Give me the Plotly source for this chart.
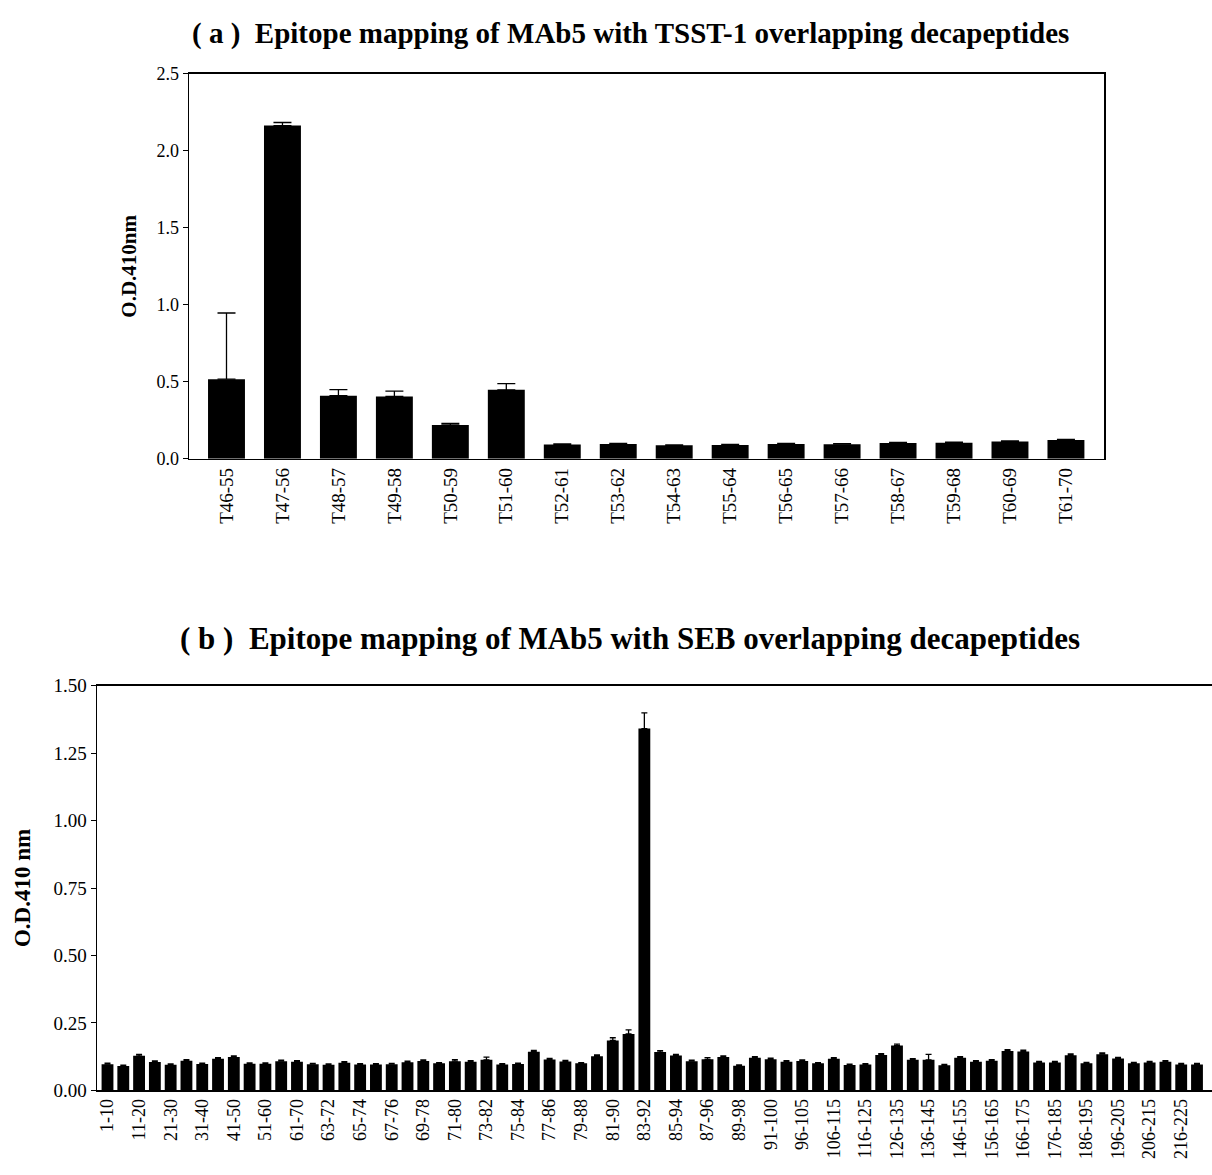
import plotly.graph_objects as go

W, H = 1212, 1175


def px(xr):
    return xr / W


def py(yr):
    return 1 - yr / H


# ---------------- (a) TSST-1 ----------------
tsst_labels = ["T46-55", "T47-56", "T48-57", "T49-58", "T50-59", "T51-60", "T52-61", "T53-62",
               "T54-63", "T55-64", "T56-65", "T57-66", "T58-67", "T59-68", "T60-69", "T61-70"]
tsst_values = [0.517, 2.164, 0.41, 0.405, 0.22, 0.448, 0.093, 0.097,
               0.088, 0.09, 0.097, 0.095, 0.103, 0.105, 0.112, 0.122]
tsst_errors = [0.43, 0.02, 0.04, 0.035, 0.01, 0.04, 0.004, 0.004,
               0.003, 0.004, 0.004, 0.003, 0.004, 0.004, 0.005, 0.005]
tsst_yticks = [0.0, 0.5, 1.0, 1.5, 2.0, 2.5]

# ---------------- (b) SEB ----------------
seb_labels = ["1-10", "6-15", "11-20", "16-25", "21-30", "26-35", "31-40", "36-45", "41-50", "46-55",
              "51-60", "56-65", "61-70", "62-71", "63-72", "64-73", "65-74", "66-75", "67-76", "68-77",
              "69-78", "70-79", "71-80", "72-81", "73-82", "74-83", "75-84", "76-85", "77-86", "78-87",
              "79-88", "80-89", "81-90", "82-91", "83-92", "84-93", "85-94", "86-95", "87-96", "88-97",
              "89-98", "90-99", "91-100", "93-102", "96-105", "101-110", "106-115", "111-120", "116-125", "121-130",
              "126-135", "131-140", "136-145", "141-150", "146-155", "151-160", "156-165", "161-170", "166-175", "171-180",
              "176-185", "181-190", "186-195", "191-200", "196-205", "201-210", "206-215", "211-220", "216-225", "221-230"]
seb_shown = seb_labels[::2]
seb_values = [0.097, 0.090, 0.128, 0.105, 0.095, 0.110, 0.098, 0.117, 0.124, 0.099,
              0.099, 0.108, 0.106, 0.097, 0.095, 0.102, 0.096, 0.096, 0.097, 0.104,
              0.109, 0.100, 0.108, 0.106, 0.113, 0.096, 0.098, 0.143, 0.114, 0.107,
              0.100, 0.126, 0.185, 0.209, 1.341, 0.142, 0.129, 0.108, 0.115, 0.124,
              0.091, 0.121, 0.115, 0.106, 0.109, 0.100, 0.117, 0.094, 0.096, 0.131,
              0.166, 0.113, 0.113, 0.093, 0.121, 0.106, 0.110, 0.146, 0.144, 0.103,
              0.103, 0.130, 0.100, 0.134, 0.118, 0.100, 0.103, 0.106, 0.096, 0.096]
seb_errors = [0.004, 0.003, 0.005, 0.004, 0.003, 0.004, 0.003, 0.004, 0.004, 0.003,
              0.003, 0.004, 0.004, 0.003, 0.003, 0.004, 0.003, 0.003, 0.003, 0.004,
              0.004, 0.003, 0.006, 0.004, 0.010, 0.003, 0.003, 0.005, 0.004, 0.004,
              0.003, 0.005, 0.010, 0.015, 0.058, 0.005, 0.004, 0.004, 0.006, 0.004,
              0.003, 0.004, 0.004, 0.004, 0.004, 0.003, 0.004, 0.003, 0.003, 0.005,
              0.005, 0.004, 0.020, 0.003, 0.004, 0.004, 0.004, 0.005, 0.005, 0.004,
              0.004, 0.005, 0.004, 0.005, 0.004, 0.004, 0.004, 0.004, 0.004, 0.004]
seb_yticks = [0.0, 0.25, 0.5, 0.75, 1.0, 1.25, 1.5]

SERIF = "Liberation Serif"

fig = go.Figure()
fig.add_trace(go.Bar(
    x=tsst_labels, y=tsst_values, xaxis="x", yaxis="y",
    marker=dict(color="black", line=dict(width=0)), width=0.66,
    error_y=dict(type="data", array=tsst_errors, arrayminus=[0] * len(tsst_errors),
                 symmetric=False, color="black", thickness=1.3, width=9),
    showlegend=False))
fig.add_trace(go.Bar(
    x=seb_labels, y=seb_values, xaxis="x2", yaxis="y2",
    marker=dict(color="black", line=dict(width=0)), width=0.75,
    error_y=dict(type="data", array=seb_errors, arrayminus=[0] * len(seb_errors),
                 symmetric=False, color="black", thickness=1.3, width=3),
    showlegend=False))

fig.update_layout(
    width=W, height=H,
    margin=dict(l=0, r=0, t=0, b=0),
    paper_bgcolor="white", plot_bgcolor="white",
    xaxis=dict(domain=[px(189), px(1104)], type="category", range=[-0.67, 15.68],
               showline=True, linecolor="black", linewidth=1.5, mirror=True,
               ticks="", tickangle=-90, tickfont=dict(family=SERIF, size=19, color="black"),
               showgrid=False, zeroline=False, anchor="y"),
    yaxis=dict(domain=[py(457), py(65)], range=[0, 2.5], tickvals=tsst_yticks,
               tickformat=".1f", showline=True, linecolor="black", linewidth=1.5, mirror=True,
               ticks="outside", ticklen=5, tickcolor="black",
               tickfont=dict(family=SERIF, size=18, color="black"),
               showgrid=False, zeroline=False, anchor="x",
               title=dict(text="<b>O.D.410nm</b>", font=dict(family=SERIF, size=21, color="black"),
                          standoff=14)),
    xaxis2=dict(domain=[px(97), 1.0], type="category", range=[-0.665, 69.95],
                tickmode="array", tickvals=seb_shown, ticktext=seb_shown,
                showline=True, linecolor="black", linewidth=1.5, mirror=True,
                ticks="", tickangle=-90, tickfont=dict(family=SERIF, size=18, color="black"),
                showgrid=False, zeroline=False, anchor="y2"),
    yaxis2=dict(domain=[py(1100), py(688)], range=[0, 1.5], tickvals=seb_yticks,
                tickformat=".2f", showline=True, linecolor="black", linewidth=1.5, mirror=False,
                ticks="outside", ticklen=5, tickcolor="black",
                tickfont=dict(family=SERIF, size=19, color="black"),
                showgrid=False, zeroline=False, anchor="x2",
                title=dict(text="<b>O.D.410 nm</b>", font=dict(family=SERIF, size=23, color="black"),
                           standoff=16)),
    annotations=[
        dict(text="<b>( a )  Epitope mapping of MAb5 with TSST-1 overlapping decapeptides</b>",
             x=px(630), y=py(24), xref="paper", yref="paper", showarrow=False,
             xanchor="center", yanchor="middle",
             font=dict(family=SERIF, size=29, color="black")),
        dict(text="<b>( b )  Epitope mapping of MAb5 with SEB overlapping decapeptides</b>",
             x=px(630), y=py(640), xref="paper", yref="paper", showarrow=False,
             xanchor="center", yanchor="middle",
             font=dict(family=SERIF, size=31, color="black")),
    ],
)

fig.write_html(
    "out.html",
    config={"displayModeBar": False, "staticPlot": True},
    post_script="document.body.style.margin='0';document.body.style.overflow='hidden';",
)
